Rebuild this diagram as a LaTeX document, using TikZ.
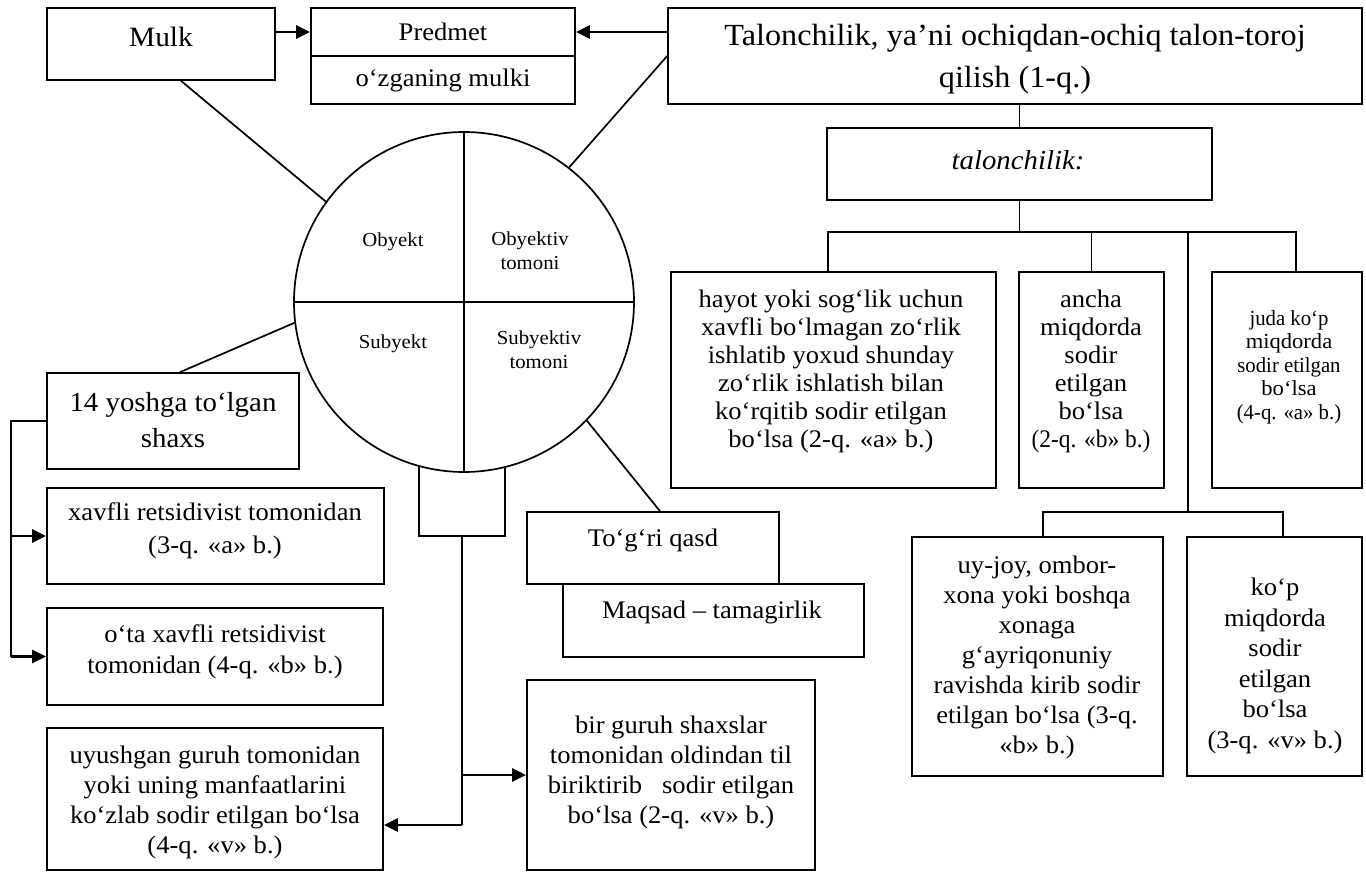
\documentclass[tikz,border=0pt]{standalone}
\usepackage{fontspec}
\setmainfont{Liberation Serif}[FakeStretch=1.05]
\usetikzlibrary{arrows.meta}
\newcommand{\myfs}[2]{\fontsize{#1}{#2}\selectfont}
\begin{document}
\begin{tikzpicture}[x=1pt,y=-1pt,
  box/.style={draw,line width=1.7pt,inner sep=0pt},
  txt/.style={align=center,inner sep=0pt},
  conn/.style={line width=1.7pt},
  arr/.style={line width=2.7pt,-{Triangle[length=14pt,width=13pt]}}]
\useasboundingbox (0,0) rectangle (1366,872);

% top row
\node[box,minimum width=228pt,minimum height=72pt] (mulk) at (161,44) {};
\node[txt,font=\myfs{28}{30}] (mulkt) at (161,37) {Mulk};
\node[box,minimum width=264pt,minimum height=48pt,font=\myfs{25.3}{28}] (ptop) at (443,32) {Predmet};
\node[box,minimum width=264pt,minimum height=48pt,font=\myfs{25.3}{28}] (pbot) at (443,80) {o‘zganing mulki};
\node[box,minimum width=694pt,minimum height=96pt] (tal) at (1015,56) {};
\node[txt,font=\myfs{30.7}{42}] (talt) at (1015,59) {Talonchilik, ya’ni ochiqdan-ochiq talon-toroj\\qilish (1-q.)};

% right tree
\node[box,minimum width=385pt,minimum height=72pt] (talk) at (1019.5,164) {};
\node[txt,font=\myfs{27.4}{30}\itshape] (talkt) at (1018,160) {talonchilik:};
\node[box,minimum width=325pt,minimum height=216pt] (hayot) at (833.5,380) {};
\node[txt,font=\myfs{25.3}{28}] (hayott) at (831,371) {hayot yoki sog‘lik uchun\\xavfli bo‘lmagan zo‘rlik\\ishlatib yoxud shunday\\zo‘rlik ishlatish bilan\\ko‘rqitib sodir etilgan\\bo‘lsa (2-q. «a» b.)};
\node[box,minimum width=145pt,minimum height=216pt] (ancha) at (1091.5,380) {};
\node[txt,font=\myfs{25.3}{28}] (anchat) at (1091,371) {ancha\\miqdorda\\sodir\\etilgan\\bo‘lsa\\\scalebox{0.88}[1]{(2-q. «b» b.)}};
\node[box,minimum width=150pt,minimum height=216pt] (juda) at (1287,380) {};
\node[txt,font=\myfs{21.5}{23.5}] (judat) at (1289,367) {\scalebox{0.92}[1]{juda ko‘p}\\miqdorda\\\scalebox{0.92}[1]{sodir etilgan}\\bo‘lsa\\\scalebox{0.92}[1]{(4-q. «a» b.)}};
\node[box,minimum width=251pt,minimum height=239pt] (uyjoy) at (1037.5,656.5) {};
\node[txt,font=\myfs{25.3}{30}] (uyjoyt) at (1037,657) {uy-joy, ombor-\\xona yoki boshqa\\xonaga\\g‘ayriqonuniy\\ravishda kirib sodir\\etilgan bo‘lsa (3-q.\\«b» b.)};
\node[box,minimum width=175pt,minimum height=239pt] (kop) at (1274.5,656.5) {};
\node[txt,font=\myfs{25.3}{30.5}] (kopt) at (1275,666) {ko‘p\\miqdorda\\sodir\\etilgan\\bo‘lsa\\(3-q. «v» b.)};

\coordinate (bus) at (1019.5,232);
\coordinate (bus2) at (1188,512);
\draw[conn] (talk.north |- tal.south) -- (talk.north);
\draw[conn] (talk.south) -- (bus);
\draw[conn] ([xshift=-5.5pt]hayot.north) |- (bus) -| ([xshift=9pt]juda.north);
\draw[conn] (ancha.north) -- (ancha.north |- bus);
\draw[conn] (bus2 |- bus) -- (bus2);
\draw[conn] ([xshift=5.5pt]uyjoy.north) |- (bus2) -| ([xshift=8.5pt]kop.north);

% circle
\node[box,minimum width=86pt,minimum height=100pt] (sq) at (462,486) {};
\node[draw,circle,line width=1.7pt,fill=white,minimum size=340pt,inner sep=0pt] (circ) at (464,302) {};
\draw[conn] (circ.west) -- (circ.east);
\draw[conn] (circ.north) -- (circ.south);
\node[txt,font=\myfs{19.8}{24}] (obj) at (393,242) {Obyekt};
\node[txt,font=\myfs{19.8}{24}] (objt) at (530,251) {Obyektiv\\tomoni};
\node[txt,font=\myfs{19.8}{24}] (sub) at (393,344) {Subyekt};
\node[txt,font=\myfs{19.8}{24}] (subt) at (539,350) {Subyektiv\\tomoni};

% left column
\node[box,minimum width=252pt,minimum height=96pt] (yosh) at (173,421) {};
\node[txt,font=\myfs{27.5}{36}] (yosht) at (173,420) {14 yoshga to‘lgan\\shaxs};
\node[box,minimum width=337pt,minimum height=96pt] (xavfli) at (215.5,536) {};
\node[txt,font=\myfs{25.3}{33}] (xavflit) at (215,531) {xavfli retsidivist tomonidan\\(3-q. «a» b.)};
\node[box,minimum width=336pt,minimum height=97pt] (ota) at (215,656.5) {};
\node[txt,font=\myfs{25.3}{31}] (otat) at (215,652) {o‘ta xavfli retsidivist\\tomonidan (4-q. «b» b.)};
\node[box,minimum width=336pt,minimum height=142pt] (uyush) at (215,799) {};
\node[txt,font=\myfs{25.3}{30}] (uyusht) at (215,802) {uyushgan guruh tomonidan\\yoki uning manfaatlarini\\ko‘zlab sodir etilgan bo‘lsa\\(4-q. «v» b.)};

% middle
\node[box,minimum width=301pt,minimum height=73pt] (maq) at (713.5,620.5) {};
\node[txt,font=\myfs{25.3}{28}] (maqt) at (712,612) {Maqsad – tamagirlik};
\node[box,minimum width=252pt,minimum height=72pt,fill=white] (tog) at (653,548) {};
\node[txt,font=\myfs{25.3}{28}] (togt) at (653,540) {To‘g‘ri qasd};
\node[box,minimum width=288pt,minimum height=190pt] (bir) at (671,775) {};
\node[txt,font=\myfs{25.3}{30}] (birt) at (671,772) {bir guruh shaxslar\\tomonidan oldindan til\\biriktirib\ \ \ sodir etilgan\\bo‘lsa (2-q. «v» b.)};

% connectors
\draw[arr] (mulk.east |- ptop.west) -- (ptop.west);
\draw[arr] (tal.west |- ptop.east) -- (ptop.east);
\draw[conn] (tal.west) -- (circ.52);
\draw[conn] ([xshift=20pt]mulk.south) -- (circ.144);
\draw[conn] (circ.187) -- ([xshift=7pt]yosh.north);
\draw[conn] (circ.-44) -- ([xshift=7pt]tog.north);

\coordinate (lb) at (11,656.5);
\draw[conn] (yosh.west) -| (lb);
\draw[arr] (lb) -- (ota.west);
\draw[arr] (lb |- xavfli.west) -- (xavfli.west);

\coordinate (v1) at (462,825);
\draw[conn] (sq.south) -- (v1);
\draw[arr] (sq.south |- bir.west) -- (bir.west);
\draw[arr] (v1) -- (uyush.east |- v1);
\end{tikzpicture}
\end{document}
